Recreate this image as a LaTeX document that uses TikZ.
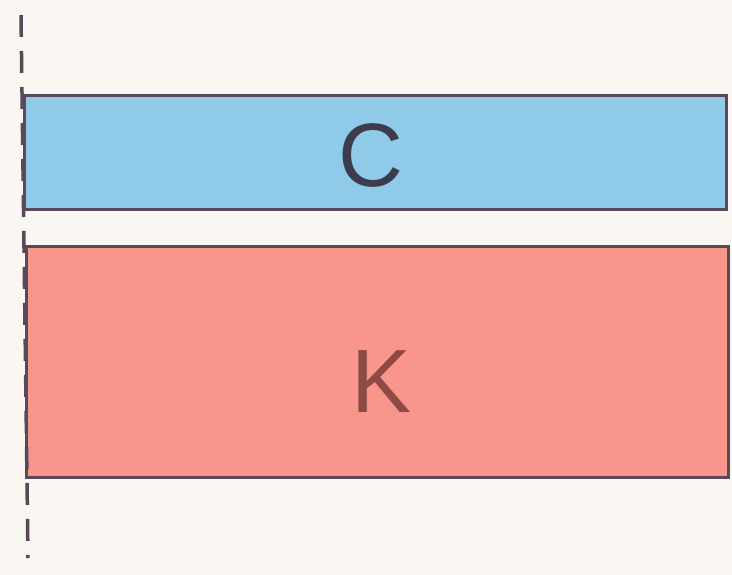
\documentclass[tikz,border=0pt]{standalone}
\usepackage{fontspec}
\setmainfont{Liberation Sans}
\definecolor{bg}{HTML}{FAF6F1}
\definecolor{blueF}{HTML}{8FCAE8}
\definecolor{redF}{HTML}{F8968C}
\definecolor{edge}{HTML}{5A4858}
\definecolor{ctext}{HTML}{3C3C4E}
\definecolor{ktext}{HTML}{8E4A44}
\tikzset{
  bar/.style={draw=edge, line width=3pt},
  lab/.style={font=\fontsize{90}{90}\selectfont, inner sep=0pt},
}
\begin{document}
\begin{tikzpicture}[x=1pt,y=-1pt]
\fill[bg] (0,0) rectangle (732,575);
\useasboundingbox (0,0) rectangle (732,575);
\draw[bar, fill=blueF] (24,96) rectangle (726,210);
\draw[bar, fill=redF] (26,247) rectangle (728,477);
\coordinate (dtop) at (21,15);
\coordinate (dbot) at (28,558);
\draw[edge, line width=3.5pt, dash pattern=on 22pt off 14pt] (dtop) -- (dbot);
\node[lab, text=ctext] (c) at (371,156) {C};
\node[lab, text=ktext] (k) at (382,382) {K};
\end{tikzpicture}
\end{document}
